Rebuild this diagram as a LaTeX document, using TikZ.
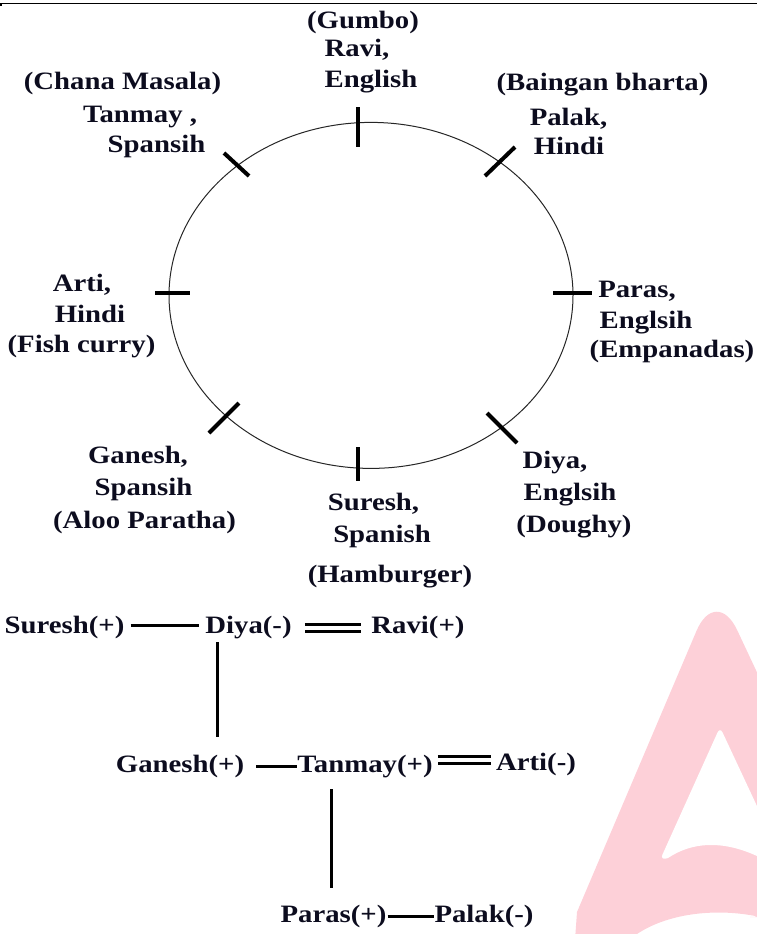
\documentclass[tikz,border=0pt]{standalone}
\usepackage{fontspec}
\setmainfont{Liberation Serif}[FakeStretch=1.15]
\definecolor{wmpink}{RGB}{253,208,216}
\definecolor{txt}{RGB}{12,12,30}
\begin{document}
\begin{tikzpicture}[x=1pt,y=-1pt,
  lbl/.style={font=\fontsize{25}{29}\selectfont\bfseries, text=txt, inner sep=0pt, anchor=base, text height=17pt, text depth=5pt},
  conn/.style={line width=3pt, black},
  dconn/.style={line width=3pt, black, double=white, double distance=4pt},
  tick/.style={line width=4pt, black},
  ring/.style={line width=1pt, black!85}]
\useasboundingbox (0,0) rectangle (757,934);
% watermark
\begin{scope}
\clip (0,0) rectangle (757,934);
\fill[wmpink, rounded corners=50pt] (716,585) -- (800,764) -- (800,917) [sharp corners] -- (760,917) .. controls (720,908) and (670,912) .. (637,934) -- (636,940) -- (575,940) -- (577,912) [rounded corners=50pt] -- cycle;
\fill[white, rounded corners=12pt] (720,727) -- (785,866) [sharp corners] -- (757,856) .. controls (722,840) and (692,842) .. (668,858) [rounded corners=6pt] -- (660,860) -- cycle;
\end{scope}
% top rule
\draw[line width=1.2pt] (0,3.5) -- (757,3.5);
\fill (0,3) rectangle (2,6);
% seating circle
\draw[ring] (371,295.4) ellipse [x radius=202pt, y radius=173pt];
\draw[tick] (358,107) -- (358,147);
\draw[tick] (358,447) -- (358,481);
\draw[tick] (155,293) -- (190,293);
\draw[tick] (553,293) -- (592,293);
\draw[tick] (224,153) -- (249,176);
\draw[tick] (515,147) -- (485,176);
\draw[tick] (239,403) -- (209,433);
\draw[tick] (487,413) -- (517,443);
% labels around circle
\node[lbl] (gumbo) at (363,29) {(Gumbo)};
\node[lbl] (raviA) at (357,57) {Ravi,};
\node[lbl] (englishA) at (371,87) {English};
\node[lbl] (chana) at (122.5,89) {(Chana Masala)};
\node[lbl] (tanmayA) at (140,122) {Tanmay ,};
\node[lbl] (spansihA) at (156.5,152) {Spansih};
\node[lbl] (baingan) at (602.5,90) {(Baingan bharta)};
\node[lbl] (palakA) at (568.5,125) {Palak,};
\node[lbl] (hindiA) at (569,154) {Hindi};
\node[lbl] (parasA) at (637,297) {Paras,};
\node[lbl] (englsihA) at (646,328) {Englsih};
\node[lbl] (empanadas) at (672,357) {(Empanadas)};
\node[lbl] (artiA) at (82,291) {Arti,};
\node[lbl] (hindiB) at (90,322) {Hindi};
\node[lbl] (fish) at (81.5,352) {(Fish curry)};
\node[lbl] (ganeshA) at (138,463) {Ganesh,};
\node[lbl] (spansihB) at (143.5,495) {Spansih};
\node[lbl] (aloo) at (144.5,528) {(Aloo Paratha)};
\node[lbl] (sureshA) at (373.5,510) {Suresh,};
\node[lbl] (spanish) at (382,542) {Spanish};
\node[lbl] (hamburger) at (390,582) {(Hamburger)};
\node[lbl] (diyaA) at (555,468) {Diya,};
\node[lbl] (englsihB) at (570,500) {Englsih};
\node[lbl] (doughy) at (574,532) {(Doughy)};
% relation diagram
\node[lbl] (sureshB) at (64.5,633) {Suresh(+)};
\node[lbl] (diyaB) at (248.5,633) {Diya(-)};
\node[lbl] (raviB) at (418,633) {Ravi(+)};
\node[lbl] (ganeshB) at (180,772) {Ganesh(+)};
\node[lbl] (tanmayB) at (365,772) {Tanmay(+)};
\node[lbl] (artiB) at (536,770) {Arti(-)};
\node[lbl] (parasB) at (333.5,922) {Paras(+)};
\node[lbl] (palakB) at (484,922) {Palak(-)};
\draw[conn, shorten <=6pt, shorten >=6pt] ([yshift=2pt]sureshB.east) -- ([yshift=2pt]diyaB.west);
\draw[dconn, shorten <=13pt, shorten >=10pt] ([yshift=-0.5pt]diyaB.east) -- ([yshift=-0.5pt]diyaB.east -| raviB.west);
\draw[conn, shorten <=4pt, shorten >=18pt] ([xshift=12pt]diyaB.south west) -- ([xshift=12pt]diyaB.south west |- ganeshB.north);
\draw[conn, shorten <=12pt] (ganeshB.east) -- (tanmayB.west);
\draw[dconn, shorten <=5pt, shorten >=5pt] ([yshift=6pt]tanmayB.east) -- ([yshift=6pt]tanmayB.east -| artiB.west);
\draw[conn, shorten <=12pt, shorten >=17pt] ([xshift=34pt]tanmayB.south west) -- ([xshift=34pt]tanmayB.south west |- parasB.north);
\draw[conn, shorten <=1pt] (parasB.east) -- (palakB.west);
\end{tikzpicture}
\end{document}
